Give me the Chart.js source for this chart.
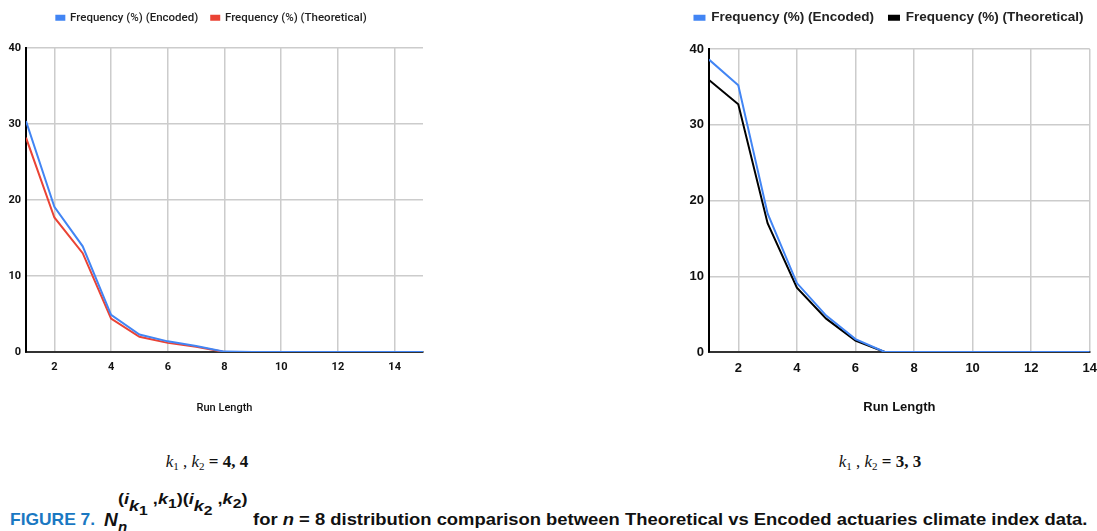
<!DOCTYPE html>
<html>
<head>
<meta charset="utf-8">
<script src="https://cdn.jsdelivr.net/npm/chart.js@4.4.1/dist/chart.umd.min.js"></script>
<style>
  body { margin: 0; width: 1097px; height: 531px; background: #fff; position: relative; overflow: hidden; }
  .box { position: absolute; top: 0; height: 420px; }
  #leftBox { left: 0; width: 430px; }
  #rightBox { left: 672px; width: 434px; }
  .klabel { position: absolute; top: 452px; font-family: "Liberation Serif", serif; font-size: 17px; color: #111; white-space: nowrap; transform: translateX(-50%); }
  .klabel i { font-style: italic; }
  .klabel sub { font-size: 11px; vertical-align: -3px; line-height: 0; }
  #caption { position: absolute; left: 0; top: 486px; width: 1097px; height: 45px; font-family: "Liberation Sans", Arial, sans-serif; font-weight: bold; color: #111; }
  #caption span.p { position: absolute; white-space: nowrap; transform-origin: 0 0; }
  .fig { color: #1a78c2; font-size: 17px; top: 24px; left: 10px; }
  .sup { font-size: 15px; left: 118px; top: 4px; }
  .sup i { font-style: italic; }
  .sup .s1 { font-size: 15px; font-style: italic; position: relative; top: 7px; }
  .sup .s2 { font-size: 13px; font-style: normal; position: relative; top: 4px; }
</style>
</head>
<body>
<div class="box" id="leftBox"><canvas id="leftChart"></canvas></div>
<div class="box" id="rightBox"><canvas id="rightChart"></canvas></div>

<div class="klabel" style="left:207px"><i>k</i><sub>1</sub> , <i>k</i><sub>2</sub> <b>= 4, 4</b></div>
<div class="klabel" style="left:880px"><i>k</i><sub>1</sub> , <i>k</i><sub>2</sub> <b>= 3, 3</b></div>

<div id="caption">
  <span class="p fig" id="figLbl">FIGURE 7.</span>
  <span class="p" style="left:104px;top:23px;font-size:19px;font-style:italic">N</span>
  <span class="p" style="left:118px;top:32px;font-size:15px;font-style:italic">n</span>
  <span class="p sup" id="supLbl">(<i>i</i><span class="s1">k<span class="s2">1</span></span> ,<i>k</i><span class="s2">1</span>)(<i>i</i><span class="s1">k<span class="s2">2</span></span> ,<i>k</i><span class="s2">2</span>)</span>
  <span class="p" id="capText" style="left:253px;top:24px;font-size:17px">for <i>n</i> = 8 distribution comparison between Theoretical vs Encoded actuaries climate index data.</span>
</div>

<script>
// left panel: k1, k2 = 4, 4
const runLengthLeft = [1, 2, 3, 4, 5, 6, 7, 8, 9, 10, 11, 12, 13, 14, 15];
const encodedLeft = [30.4, 19.1, 13.9, 4.9, 2.3, 1.4, 0.8, 0.05, 0, 0, 0, 0, 0, 0, 0];
const theoreticalLeft = [28.2, 17.7, 13.0, 4.4, 2.0, 1.2, 0.7, 0, 0, 0, 0, 0, 0, 0, 0];

// right panel: k1, k2 = 3, 3
const runLengthRight = [1, 2, 3, 4, 5, 6, 7, 8, 9, 10, 11, 12, 13, 14];
const encodedRight = [38.6, 35.2, 18.3, 9.1, 4.8, 1.7, 0, 0, 0, 0, 0, 0, 0, 0];
const theoreticalRight = [35.9, 32.7, 17.0, 8.5, 4.4, 1.5, 0, 0, 0, 0, 0, 0, 0, 0];

const xTicks = [2, 4, 6, 8, 10, 12, 14];
const yTicks = [0, 10, 20, 30, 40];

function makeChart(id, xs, enc, theo, theoColor, opt) {
  const chart = new Chart(document.getElementById(id), {
    type: 'line',
    data: {
      datasets: [
        { label: 'Frequency (%) (Encoded)', data: xs.map((x, i) => ({ x: x, y: enc[i] })),
          borderColor: '#4285f4', backgroundColor: '#4285f4', borderWidth: 2, pointRadius: 0, tension: 0 },
        { label: 'Frequency (%) (Theoretical)', data: xs.map((x, i) => ({ x: x, y: theo[i] })),
          borderColor: theoColor, backgroundColor: theoColor, borderWidth: 2, pointRadius: 0, tension: 0 }
      ]
    },
    options: {
      responsive: true,
      maintainAspectRatio: false,
      animation: false,
      layout: { padding: { right: opt.padRight, top: opt.padTop, bottom: 0, left: 0 } },
      plugins: {
        legend: {
          position: 'top',
          labels: { boxWidth: opt.boxW, boxHeight: 4, padding: opt.legendPad, color: '#222',
            font: { family: opt.family, size: opt.legendSize, weight: opt.legendWeight } }
        },
        tooltip: { enabled: false }
      },
      scales: {
        x: {
          type: 'linear', min: xs[0], max: xs[xs.length - 1],
          afterBuildTicks: s => { s.ticks = xTicks.map(v => ({ value: v })); },
          afterFit: s => { s.height = 68; },
          grid: { color: '#cccccc', lineWidth: 1.5, drawTicks: false },
          border: { color: '#333', width: 2 },
          ticks: { padding: 9, color: '#111', font: { family: opt.family, size: opt.tickSize, weight: 'bold' } },
          title: { display: true, text: 'Run Length', color: '#111', padding: { top: 0, bottom: 5 },
            font: { family: opt.family, size: opt.tickSize, weight: opt.legendWeight } }
        },
        y: {
          min: 0, max: 40,
          afterBuildTicks: s => { s.ticks = yTicks.map(v => ({ value: v })); },
          afterFit: s => { s.width = opt.yWidth; },
          grid: { color: '#cccccc', lineWidth: 1.5, drawTicks: false },
          border: { color: '#000', width: 2 },
          ticks: { padding: 5, color: '#111', font: { family: opt.family, size: opt.tickSize, weight: 'bold' } }
        }
      }
    }
  });
  // more room between the legend and the plot, like the original
  const fit = chart.legend.fit;
  chart.legend.fit = function () { fit.call(this); this.height = opt.legendH; };
  chart.update();
  return chart;
}

makeChart('leftChart', runLengthLeft, encodedLeft, theoreticalLeft, '#ea4335',
  { family: 'Roboto', padRight: 7, padTop: -1, boxW: 8, legendPad: 13, legendSize: 11.5, legendWeight: '500',
    tickSize: 11, yWidth: 26, legendH: 49 });
makeChart('rightChart', runLengthRight, encodedRight, theoreticalRight, '#000000',
  { family: 'Liberation Sans', padRight: 0, padTop: -4, boxW: 10, legendPad: 15, legendSize: 13.5, legendWeight: 'bold',
    tickSize: 13, yWidth: 37, legendH: 53 });

// squeeze caption pieces to the widths in the original
function fitWidth(id, w) {
  const el = document.getElementById(id);
  el.style.transform = 'scaleX(' + (w / el.offsetWidth) + ')';
}
fitWidth('figLbl', 85);
fitWidth('supLbl', 129);
fitWidth('capText', 834);
</script>
</body>
</html>
